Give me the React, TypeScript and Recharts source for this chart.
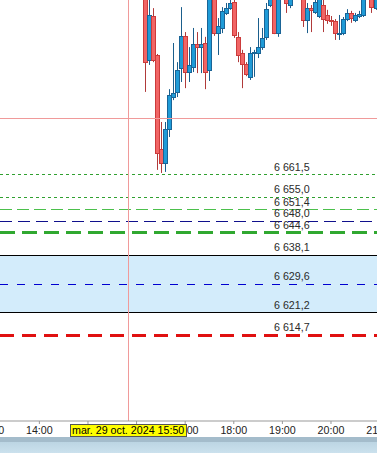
import { Bar, ComposedChart, ReferenceArea, ReferenceLine, XAxis, YAxis } from "recharts";

// 5-minute candles
const times = [
  "16:10", "16:15", "16:20", "16:25", "16:30", "16:35", "16:40", "16:45", "16:50", "16:55",
  "17:00", "17:05", "17:10", "17:15", "17:20", "17:25", "17:30", "17:35", "17:40", "17:45", "17:50", "17:55",
  "18:00", "18:05", "18:10", "18:15", "18:20", "18:25", "18:30", "18:35", "18:40", "18:45", "18:50", "18:55",
  "19:00", "19:05", "19:10", "19:15", "19:20", "19:25", "19:30", "19:35", "19:40", "19:45", "19:50", "19:55",
  "20:00", "20:05", "20:10", "20:15", "20:20", "20:25", "20:30", "20:35", "20:40", "20:45", "20:50", "20:55",
];

const opens = [
  6720.0, 6695.1, 6708.0, 6696.6, 6669.1, 6665.0, 6675.0, 6684.3, 6685.8, 6692.8,
  6702.1, 6691.6, 6693.1, 6699.8, 6698.9, 6700.1, 6692.2, 6714.1, 6703.0, 6704.5,
  6708.9, 6710.3, 6712.1, 6701.9, 6697.2, 6694.0, 6690.2, 6697.2, 6697.2, 6698.9,
  6701.9, 6711.2, 6715.0, 6703.0, 6716.0, 6714.1, 6711.2, 6715.5, 6718.5, 6714.1,
  6706.8, 6710.3, 6709.2, 6708.0, 6711.2, 6708.3, 6706.8, 6706.5, 6702.7, 6703.0,
  6707.1, 6708.9, 6706.8, 6708.0, 6708.3, 6715.0, 6715.0, 6710.3,
];

const highs = [
  6724.4, 6715.0, 6710.3, 6696.9, 6677.0, 6677.0, 6686.6, 6700.1, 6694.5, 6710.6,
  6703.3, 6698.9, 6704.5, 6703.3, 6704.5, 6701.9, 6717.1, 6716.2, 6707.4, 6710.6,
  6711.8, 6713.6, 6713.3, 6703.3, 6698.1, 6694.5, 6698.9, 6698.1, 6707.4, 6704.5,
  6711.8, 6716.2, 6717.1, 6717.1, 6719.5, 6715.6, 6715.0, 6720.0, 6720.5, 6715.6,
  6711.8, 6711.2, 6713.6, 6715.6, 6712.7, 6709.8, 6708.0, 6707.1, 6708.3, 6707.7,
  6710.0, 6709.5, 6708.9, 6709.5, 6715.6, 6718.5, 6716.2, 6716.2,
];

const lows = [
  6685.8, 6693.7, 6694.5, 6663.0, 6662.1, 6662.4, 6672.6, 6683.4, 6684.3, 6688.7,
  6686.9, 6688.7, 6691.6, 6691.3, 6691.3, 6686.6, 6689.0, 6702.2, 6696.6, 6703.0,
  6708.3, 6709.8, 6701.6, 6694.5, 6686.9, 6690.4, 6689.3, 6690.2, 6695.7, 6698.1,
  6701.0, 6710.6, 6702.7, 6701.9, 6714.0, 6708.9, 6710.3, 6714.0, 6714.5, 6704.8,
  6703.0, 6703.3, 6708.6, 6707.4, 6703.3, 6705.7, 6705.1, 6701.0, 6701.0, 6702.4,
  6706.5, 6706.0, 6706.2, 6707.4, 6707.7, 6713.5, 6708.9, 6709.8,
];

const closes = [
  6694.5, 6708.3, 6695.1, 6667.9, 6665.0, 6675.0, 6684.9, 6685.5, 6692.2, 6702.1,
  6691.6, 6693.7, 6699.8, 6698.9, 6699.8, 6691.6, 6714.1, 6703.0, 6705.1, 6709.5,
  6710.3, 6711.8, 6702.4, 6696.6, 6694.0, 6691.0, 6697.2, 6697.5, 6698.9, 6701.6,
  6710.0, 6714.1, 6703.0, 6715.0, 6718.0, 6711.8, 6713.6, 6718.5, 6716.0, 6706.8,
  6710.3, 6709.8, 6712.1, 6714.1, 6707.1, 6706.8, 6706.5, 6703.0, 6703.0, 6707.1,
  6708.9, 6707.4, 6708.3, 6708.6, 6714.1, 6717.0, 6710.6, 6714.4,
];

// horizontal levels
const levels = [6661.5, 6655.0, 6651.4, 6648.0, 6644.6, 6638.1, 6629.6, 6621.2, 6614.7];
const band = [6621.2, 6638.1];

const hourLabels = ["13:00", "14:00", "15:00", "16:00", "17:00", "18:00", "19:00", "20:00", "21:00"];
// 15:00 and 16:00 sit under the cursor label
const hiddenHours = ["15:00", "16:00"];

const cursorTime = "15:50";
const cursorPrice = 6677.9;
const cursorText = "mar. 29 oct. 2024 15:50";

const levelStyles = [
  { stroke: "#30a030", width: 1, dash: "3 3" },
  { stroke: "#30a030", width: 1, dash: "3 3" },
  { stroke: "#4cc04c", width: 1, dash: "12 5" },
  { stroke: "#10108c", width: 1, dash: "12 6" },
  { stroke: "#30a830", width: 3, dash: "15 7" },
  { stroke: "#000000", width: 1, dash: undefined },
  { stroke: "#0000d0", width: 1, dash: "8 9" },
  { stroke: "#000000", width: 1, dash: undefined },
  { stroke: "#e01010", width: 3, dash: "14 8" },
];

const FONT = "Arial, 'Liberation Sans', sans-serif";

const toMin = (s: string) => {
  const [h, m] = s.split(":").map(Number);
  return h * 60 + m;
};

function fmtPrice(p: number): string {
  const [i, d] = p.toFixed(1).split(".");
  return i.replace(/\B(?=(\d{3})+(?!\d))/g, " ") + "," + d;
}

const data = times.map((t, i) => ({
  t: toMin(t),
  open: opens[i],
  high: highs[i],
  low: lows[i],
  close: closes[i],
  range: [lows[i], highs[i]],
}));

const hourTicks = hourLabels.map(toMin);

function Candle(props: any) {
  const { x, y, width, height, payload } = props;
  if (x == null || y == null || !payload) return null;
  const { open, close, high, low } = payload;
  const h = Math.abs(height);
  const top = height >= 0 ? y : y + height;
  const k = high === low ? 0 : h / (high - low);
  const py = (v: number) => top + (high - v) * k;
  const c = Math.round(x + width / 2);
  const up = close >= open;
  const bTop = Math.round(py(Math.max(open, close))) + 0.5;
  const bBot = Math.max(Math.round(py(Math.min(open, close))) + 0.5, bTop + 1);
  return (
    <g>
      <line
        x1={c + 0.5}
        x2={c + 0.5}
        y1={top}
        y2={top + h}
        stroke={up ? "#1b5e8c" : "#b03a3a"}
      />
      <rect
        x={c - 1.5}
        y={bTop}
        width={4}
        height={bBot - bTop}
        fill={up ? "#1f9bd7" : "#f16565"}
        stroke={up ? "#1a6496" : "#cc3b3b"}
        strokeWidth={1}
      />
    </g>
  );
}

// snap horizontal/vertical lines onto the pixel grid
function CrispLine(props: any) {
  const { x1, y1, x2, y2, stroke, strokeWidth, strokeDasharray } = props;
  const snap = (v: number) => Math.round(v - 0.5) + 0.5;
  const horiz = y1 === y2;
  return (
    <line
      x1={horiz ? x1 : snap(x1)}
      x2={horiz ? x2 : snap(x2)}
      y1={horiz ? snap(y1) : y1}
      y2={horiz ? snap(y2) : y2}
      stroke={stroke}
      strokeWidth={strokeWidth}
      strokeDasharray={strokeDasharray}
    />
  );
}

function levelLabel(text: string) {
  return (props: any) => {
    const vb = props.viewBox ?? {};
    return (
      <text x={274} y={Math.round((vb.y ?? 0) - 4)} fontSize={10.7} fill="#2a2a2a" fontFamily={FONT}>
        {text}
      </text>
    );
  };
}

export default function App() {
  return (
    <div
      style={{
        position: "absolute",
        left: 0,
        top: 0,
        width: 377,
        height: 453,
        overflow: "hidden",
        background: "#fff",
        fontFamily: FONT,
      }}
    >
      <ComposedChart
        width={377}
        height={437}
        data={data}
        margin={{ top: 0, right: 0, bottom: 0, left: 0 }}
      >
        <XAxis
          dataKey="t"
          type="number"
          domain={[791.4, 1256.8]}
          allowDataOverflow
          ticks={hourTicks}
          interval={0}
          tickFormatter={(v: number) => {
            const lbl = hourLabels[hourTicks.indexOf(v)] ?? "";
            return hiddenHours.includes(lbl) ? "" : lbl;
          }}
          height={16}
          tickSize={3}
          tickMargin={2}
          stroke="#999"
          tick={{ fontSize: 10.7, fill: "#222", fontFamily: FONT }}
        />
        <YAxis hide type="number" domain={[6589.55, 6712.68]} allowDataOverflow />
        <ReferenceArea y1={band[0]} y2={band[1]} fill="#d3ecfb" fillOpacity={1} stroke="none" />
        {levels.map((p, i) => (
          <ReferenceLine
            key={p}
            y={p}
            stroke={levelStyles[i].stroke}
            strokeWidth={levelStyles[i].width}
            strokeDasharray={levelStyles[i].dash}
            shape={CrispLine}
            label={levelLabel(fmtPrice(p))}
          />
        ))}
        <Bar dataKey="range" shape={Candle} barSize={4} isAnimationActive={false} />
        <ReferenceLine y={cursorPrice} stroke="#f09a9a" shape={CrispLine} />
        <ReferenceLine x={toMin(cursorTime)} stroke="#f09a9a" shape={CrispLine} />
      </ComposedChart>
      <div style={{ position: "absolute", left: 0, top: 437, width: 377, height: 5, background: "#a4bccb" }} />
      <div
        style={{
          position: "absolute",
          left: 0,
          top: 442,
          width: 377,
          height: 11,
          background: "linear-gradient(#bcd5e3, #cbe1ed)",
        }}
      />
      <div
        style={{
          position: "absolute",
          left: 70,
          top: 424,
          width: 117,
          height: 13,
          boxSizing: "border-box",
          background: "#ffff00",
          border: "1px solid #555",
          fontSize: 10.7,
          lineHeight: "11px",
          paddingLeft: 1,
          color: "#000",
          whiteSpace: "nowrap",
        }}
      >
        {cursorText}
      </div>
    </div>
  );
}
